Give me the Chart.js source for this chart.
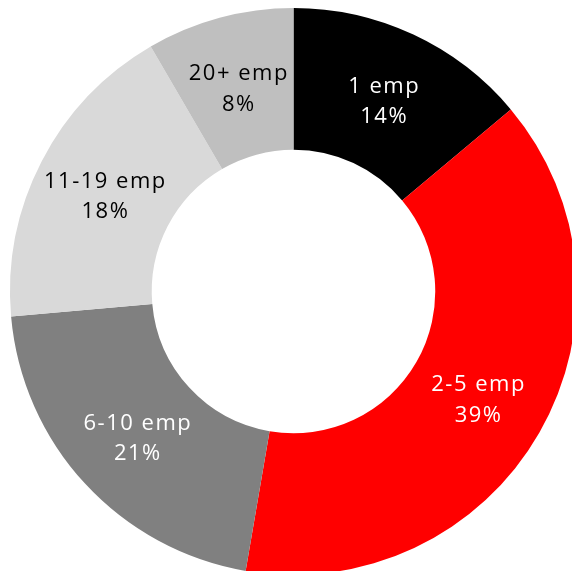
<!DOCTYPE html>
<html>
<head>
<meta charset="utf-8">
<script src="https://cdn.jsdelivr.net/npm/chart.js@4/dist/chart.umd.min.js"></script>
<style>
  html, body { margin: 0; padding: 0; background: #ffffff; overflow: hidden; }
  #wrap { position: absolute; left: 0; top: 0; }
  canvas { display: block; }
</style>
</head>
<body>
<div id="wrap"><canvas id="c" width="577" height="575"></canvas></div>
<script>
// Data (share of firms by size, percent)
const categories = ['1 emp', '2-5 emp', '6-10 emp', '11-19 emp', '20+ emp'];
const shares = [13.9, 38.8, 20.9, 18.0, 8.4];
const sliceColors = ['#000000', '#FF0000', '#808080', '#D9D9D9', '#BFBFBF'];
const labelColors = ['#FFFFFF', '#FFFFFF', '#FFFFFF', '#000000', '#000000'];

const total = shares.reduce((a, b) => a + b, 0);

const labelPlugin = {
  id: 'sliceLabels',
  afterDatasetsDraw(chart) {
    const ctx = chart.ctx;
    const meta = chart.getDatasetMeta(0);
    ctx.save();
    ctx.font = '22px "Open Sans"';
    ctx.textAlign = 'center';
    ctx.textBaseline = 'alphabetic';
    const ls = 1.5;
    if ('letterSpacing' in ctx) ctx.letterSpacing = ls + 'px';
    meta.data.forEach((arc, i) => {
      const p = arc.getProps(['x', 'y', 'startAngle', 'endAngle', 'innerRadius', 'outerRadius'], true);
      const mid = (p.startAngle + p.endAngle) / 2;
      const r = (p.innerRadius + p.outerRadius) / 2;
      const cx = p.x + Math.cos(mid) * r + ls / 2;
      const cy = p.y + Math.sin(mid) * r;
      ctx.fillStyle = labelColors[i];
      const pct = Math.round(chart.data.datasets[0].data[i] / total * 100) + '%';
      ctx.fillText(chart.data.labels[i], cx, cy - 6);
      ctx.fillText(pct, cx, cy + 24.5);
    });
    ctx.restore();
  }
};

new Chart(document.getElementById('c'), {
  type: 'doughnut',
  data: {
    labels: categories,
    datasets: [{
      data: shares,
      backgroundColor: sliceColors,
      borderWidth: 0,
      hoverOffset: 0
    }]
  },
  options: {
    responsive: false,
    animation: false,
    cutout: '50%',
    rotation: 0,
    layout: { padding: { left: 10, top: 8, right: 0, bottom: 0 } },
    plugins: {
      legend: { display: false },
      tooltip: { enabled: false },
      title: { display: false }
    },
    events: []
  },
  plugins: [labelPlugin]
});
</script>
</body>
</html>
